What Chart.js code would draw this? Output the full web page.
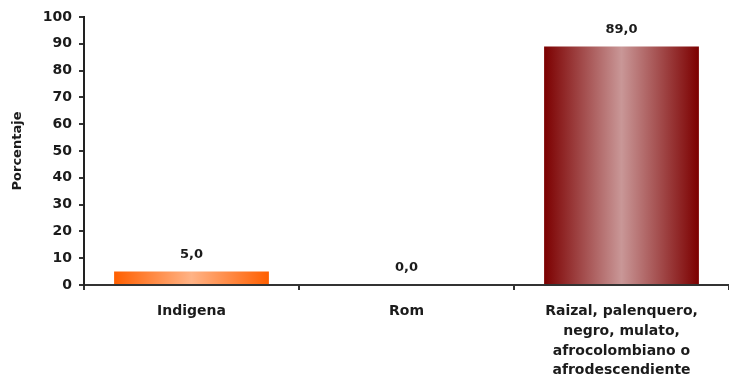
<!DOCTYPE html>
<html>
<head>
<meta charset="utf-8">
<script src="https://cdn.jsdelivr.net/npm/chart.js@4/dist/chart.umd.min.js"></script>
<style>
  html, body { margin: 0; padding: 0; background: #fff; }
  #wrap { width: 729px; height: 385px; position: relative; }
</style>
</head>
<body>
<div id="wrap"><canvas id="chart"></canvas></div>
<script>
// Data
const categories = [
  "Indigena",
  "Rom",
  ["Raizal, palenquero,", "negro, mulato,", "afrocolombiano o", "afrodescendiente"],
];
const values = [5.0, 0.0, 89.0];
const yTicks = [0, 10, 20, 30, 40, 50, 60, 70, 80, 90, 100];

// Edge / centre colours of each bar's horizontal shading.
const SHADES = [
  ["#ff5f00", "#ffb386"],
  ["#ff5f00", "#ffb386"],
  ["#7c0000", "#c99797"],
];

const FONT = '"DejaVu Sans", sans-serif';

// Horizontal "cylinder" gradient built from the bar's own slot on the x scale.
function barFill(ctx) {
  const chart = ctx.chart;
  const x = chart.scales.x;
  if (!chart.chartArea || !x) return SHADES[ctx.dataIndex][0];
  const slot = x.width / categories.length;
  const half = slot * ctx.dataset.barPercentage / 2;
  const cx = x.getPixelForTick(ctx.dataIndex);
  const g = chart.ctx.createLinearGradient(cx - half, 0, cx + half, 0);
  const [edge, mid] = SHADES[ctx.dataIndex];
  g.addColorStop(0, edge);
  g.addColorStop(0.5, mid);
  g.addColorStop(1, edge);
  return g;
}

// Numeric labels above bars, Spanish decimal comma.
const valueLabels = {
  id: "valueLabels",
  afterDatasetsDraw(chart) {
    const c = chart.ctx;
    const meta = chart.getDatasetMeta(0);
    c.save();
    c.font = "bold 13px " + FONT;
    c.fillStyle = "#1b1b1b";
    c.textAlign = "center";
    c.textBaseline = "middle";
    meta.data.forEach((bar, i) => {
      c.fillText(values[i].toFixed(1).replace(".", ","), bar.x, bar.y - 17);
    });
    c.restore();
  },
};

new Chart(document.getElementById("chart"), {
  type: "bar",
  data: {
    labels: categories,
    datasets: [{
      data: values,
      backgroundColor: barFill,
      borderWidth: 0,
      barPercentage: 0.72,
      categoryPercentage: 1,
    }],
  },
  options: {
    responsive: true,
    maintainAspectRatio: false,
    animation: false,
    layout: { padding: { top: 17, right: 0, bottom: 0, left: 0 } },
    plugins: { legend: { display: false }, tooltip: { enabled: false } },
    scales: {
      x: {
        offset: true,
        afterFit(s) { s.height = 100; },
        border: { color: "#333", width: 2 },
        grid: { offset: true, drawOnChartArea: false, tickLength: 5, color: "#333", lineWidth: 2 },
        ticks: {
          autoSkip: false, maxRotation: 0, padding: 12,
          color: "#1b1b1b",
          font: { family: FONT, size: 14, weight: "bold", lineHeight: 1.4 },
        },
      },
      y: {
        min: 0,
        max: 100,
        afterFit(s) { s.width = 84; },
        afterBuildTicks(s) { s.ticks = yTicks.map(v => ({ value: v })); },
        border: { color: "#222", width: 2 },
        grid: { drawOnChartArea: false, tickLength: 5, color: "#333", lineWidth: 2 },
        ticks: {
          padding: 7,
          color: "#1b1b1b",
          font: { family: FONT, size: 14, weight: "bold" },
        },
        title: {
          display: true,
          text: "Porcentaje",
          color: "#1b1b1b",
          padding: { top: 10, bottom: 0 },
          font: { family: FONT, size: 13, weight: "bold" },
        },
      },
    },
  },
  plugins: [valueLabels],
});
</script>
</body>
</html>
